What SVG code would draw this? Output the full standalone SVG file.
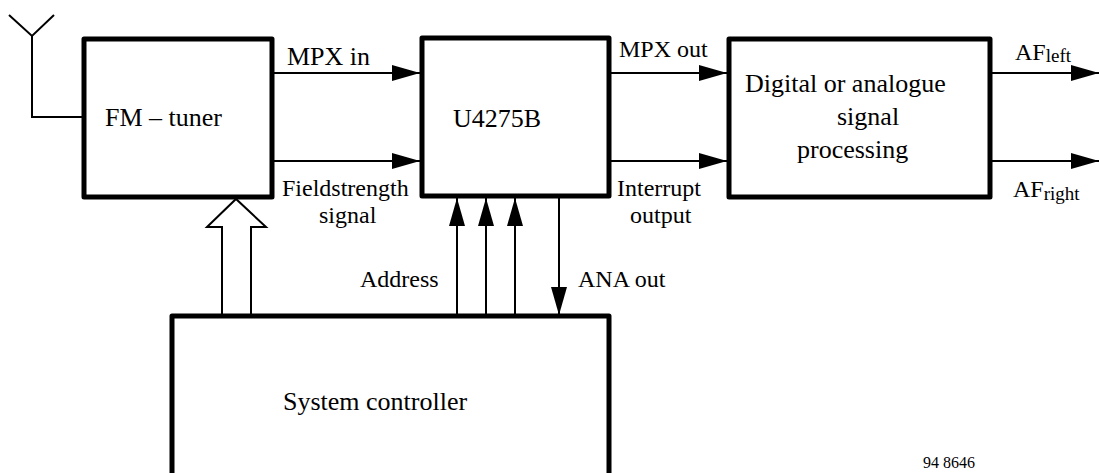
<svg xmlns="http://www.w3.org/2000/svg" width="1099" height="473" viewBox="0 0 1099 473" font-family="'Liberation Serif', 'Times New Roman', serif">
<style>
.box{fill:#fff;stroke:#000;stroke-width:5;stroke-linejoin:round}
.ln{fill:none;stroke:#000;stroke-width:2}
text{font-family:"Liberation Serif","Times New Roman",serif;fill:#000}
.n{font-size:26px}
.l{font-size:24px}
.s{font-size:19px}
</style>
<defs>
<marker id="ah" markerUnits="userSpaceOnUse" markerWidth="30" markerHeight="18" refX="28" refY="8" orient="auto" viewBox="0 0 30 18">
<path d="M0,0 L28,8 L0,16 z" fill="#000"/>
</marker>
</defs>
<rect width="1099" height="473" fill="#fff"/>
<g id="connectors">
<polyline class="ln" points="9,15 32,36 54,15"/>
<polyline class="ln" points="32,36 32,117 84,117"/>
<line class="ln" x1="272" y1="73" x2="420" y2="73" marker-end="url(#ah)"/>
<line class="ln" x1="272" y1="161" x2="420" y2="161" marker-end="url(#ah)"/>
<line class="ln" x1="609" y1="73" x2="727" y2="73" marker-end="url(#ah)"/>
<line class="ln" x1="609" y1="161" x2="727" y2="161" marker-end="url(#ah)"/>
<line class="ln" x1="990" y1="73" x2="1099" y2="73" marker-end="url(#ah)"/>
<line class="ln" x1="990" y1="161" x2="1099" y2="161" marker-end="url(#ah)"/>
<polygon class="ln" fill="#fff" points="222,316 222,227 207,227 236,199 266,227 251,227 251,316"/>
<line class="ln" x1="457" y1="316" x2="457" y2="198" marker-end="url(#ah)"/>
<line class="ln" x1="486" y1="316" x2="486" y2="198" marker-end="url(#ah)"/>
<line class="ln" x1="515" y1="316" x2="515" y2="198" marker-end="url(#ah)"/>
<line class="ln" x1="559" y1="196" x2="559" y2="315" marker-end="url(#ah)"/>
</g>
<g id="fm-tuner">
<rect class="box" x="84" y="39" width="188" height="158"/>
<text class="n" x="105" y="126">FM – tuner</text>
</g>
<g id="u4275b">
<rect class="box" x="422" y="38" width="187" height="158"/>
<text class="n" x="453" y="127">U4275B</text>
</g>
<g id="dsp">
<rect class="box" x="729" y="39" width="261" height="158"/>
<text class="n" x="745" y="92">Digital or analogue</text>
<text class="n" x="837" y="125">signal</text>
<text class="n" x="797" y="158">processing</text>
</g>
<g id="system-controller">
<rect class="box" x="172" y="316" width="437" height="180"/>
<text class="n" x="283" y="410">System controller</text>
</g>
<g id="labels">
<text class="l" font-size="26" style="font-size:26px" x="287" y="65">MPX in</text>
<text class="l" x="282" y="196">Fieldstrength</text>
<text class="l" x="319" y="223">signal</text>
<text class="l" x="619" y="57">MPX out</text>
<text class="l" x="617" y="196">Interrupt</text>
<text class="l" x="630" y="223">output</text>
<text class="l" x="1015" y="60">AF<tspan class="s" dy="2">left</tspan></text>
<text class="l" x="1013" y="197">AF<tspan class="s" dy="3">right</tspan></text>
<text class="l" x="360" y="287">Address</text>
<text class="l" x="578" y="287">ANA out</text>
<text font-size="16" x="923" y="468">94 8646</text>
</g>
</svg>
